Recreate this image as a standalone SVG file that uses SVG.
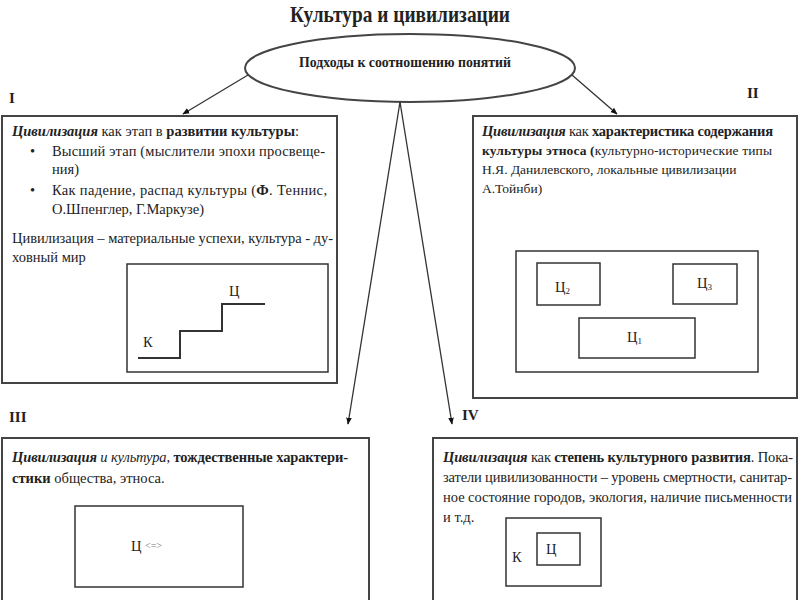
<svg xmlns="http://www.w3.org/2000/svg" width="800" height="600" viewBox="0 0 800 600">
<defs>
<marker id="ah" viewBox="0 0 10 10" refX="9" refY="5" markerWidth="7" markerHeight="7" orient="auto" markerUnits="userSpaceOnUse">
<path d="M0,1 L10,5 L0,9 Z" fill="#111"/>
</marker>
</defs>
<style>
.t{font-family:"Liberation Serif","Times New Roman",serif;font-size:14.5px;fill:#222}
.s{font-size:13.5px}
.b{font-weight:bold}
.bi{font-weight:bold;font-style:italic}
.i{font-style:italic}
.box{fill:#fff;stroke:#444;stroke-width:2}
.in{fill:none;stroke:#333;stroke-width:1.5}
.con{stroke:#333;stroke-width:1.3;fill:none;marker-end:url(#ah)}
.num{font-family:"Liberation Serif","Times New Roman",serif;font-size:15px;font-weight:bold;fill:#222}
</style>
<rect width="800" height="600" fill="#fff"/>
<text x="400" y="22" text-anchor="middle" font-family="Liberation Serif, serif" font-size="24" font-weight="bold" fill="#222" textLength="220" lengthAdjust="spacingAndGlyphs">Культура и цивилизации</text>

<g id="ellipse">
<ellipse cx="410" cy="68" rx="165" ry="34" fill="#fff" stroke="#444" stroke-width="2"/>
<text x="405" y="67" text-anchor="middle" font-family="Liberation Serif, serif" font-size="14" font-weight="bold" fill="#222" textLength="212" lengthAdjust="spacingAndGlyphs">Подходы к соотношению понятий</text>
</g>

<g id="connectors">
<line class="con" x1="248" y1="75" x2="183" y2="114"/>
<line class="con" x1="572" y1="75" x2="617" y2="114"/>
<line class="con" x1="400" y1="102" x2="348" y2="424"/>
<line class="con" x1="400" y1="102" x2="452" y2="424"/>
</g>

<g id="labels">
<text class="num" x="9" y="103">I</text>
<text class="num" x="747" y="98">II</text>
<text class="num" x="9" y="422">III</text>
<text class="num" x="462" y="420">IV</text>
</g>

<g id="box1">
<rect class="box" x="2" y="116" width="335" height="267"/>
<text class="t" x="12" y="136"><tspan class="bi">Цивилизация</tspan> как этап в <tspan class="b">развитии культуры</tspan>:</text>
<text class="t" x="30" y="156">•</text>
<text class="t" x="52" y="156" textLength="273" lengthAdjust="spacing">Высший этап (мыслители эпохи просвеще-</text>
<text class="t" x="52" y="174">ния)</text>
<text class="t" x="30" y="195">•</text>
<text class="t" x="52" y="195" textLength="275" lengthAdjust="spacing">Как падение, распад культуры (<tspan class="b">Ф</tspan>. Теннис,</text>
<text class="t" x="52" y="214">О.Шпенглер, Г.Маркузе)</text>
<text class="t" x="12" y="243" textLength="321" lengthAdjust="spacing">Цивилизация – материальные успехи, культура - ду-</text>
<text class="t" x="12" y="262">ховный мир</text>
<rect class="in" x="127" y="264" width="201" height="108"/>
<polyline points="138,358 180,358 180,331 222,331 222,304 265,304" fill="none" stroke="#333" stroke-width="2"/>
<text class="t" x="143" y="347" font-size="15">К</text>
<text class="t" x="229" y="296" font-size="15">Ц</text>
</g>

<g id="box2">
<rect class="box" x="473" y="116" width="324" height="282"/>
<text class="t" x="482" y="136" textLength="291" lengthAdjust="spacing"><tspan class="bi">Цивилизация</tspan> как <tspan class="b">характеристика содержания</tspan></text>
<text class="t s" x="482" y="155" textLength="290" lengthAdjust="spacing"><tspan class="b">культуры этноса (</tspan>культурно-исторические типы</text>
<text class="t s" x="482" y="174">Н.Я. Данилевского, локальные цивилизации</text>
<text class="t s" x="482" y="193">А.Тойнби)</text>
<rect class="in" x="516" y="251" width="242" height="121"/>
<rect class="in" x="537" y="263" width="63" height="42"/>
<rect class="in" x="673" y="264" width="64" height="40"/>
<rect class="in" x="579" y="318" width="116" height="40"/>
<text class="t" x="555" y="292">Ц<tspan font-size="9" dy="2">2</tspan></text>
<text class="t" x="697" y="288">Ц<tspan font-size="9" dy="2">3</tspan></text>
<text class="t" x="627" y="342">Ц<tspan font-size="9" dy="2">1</tspan></text>
</g>

<g id="box3">
<rect class="box" x="2" y="438" width="367" height="164"/>
<text class="t" x="12" y="462" textLength="336" lengthAdjust="spacing"><tspan class="bi">Цивилизация</tspan><tspan class="i"> и культура</tspan>, <tspan class="b">тождественные характери-</tspan></text>
<text class="t" x="12" y="483"><tspan class="b">стики</tspan> общества, этноса.</text>
<rect class="in" x="75" y="506" width="168" height="81"/>
<text class="t" x="131" y="551" font-size="15">Ц</text>
<text x="145" y="549" font-family="Liberation Serif, serif" font-size="10" fill="#777">&lt;=&gt;</text>
</g>

<g id="box4">
<rect class="box" x="433" y="438" width="364" height="164"/>
<text class="t" x="443" y="462" textLength="350" lengthAdjust="spacing"><tspan class="bi">Цивилизация</tspan> как <tspan class="b">степень культурного развития</tspan>. Пока-</text>
<text class="t" x="443" y="482" textLength="349" lengthAdjust="spacing">затели цивилизованности – уровень смертности, санитар-</text>
<text class="t" x="443" y="502" textLength="349" lengthAdjust="spacing">ное состояние городов, экология, наличие письменности</text>
<text class="t" x="443" y="522">и т.д.</text>
<rect class="in" x="506" y="518" width="95" height="68"/>
<rect class="in" x="537" y="533" width="43" height="32"/>
<text class="t" x="512" y="562" font-size="15">К</text>
<text class="t" x="546" y="554" font-size="15">Ц</text>
</g>
</svg>
